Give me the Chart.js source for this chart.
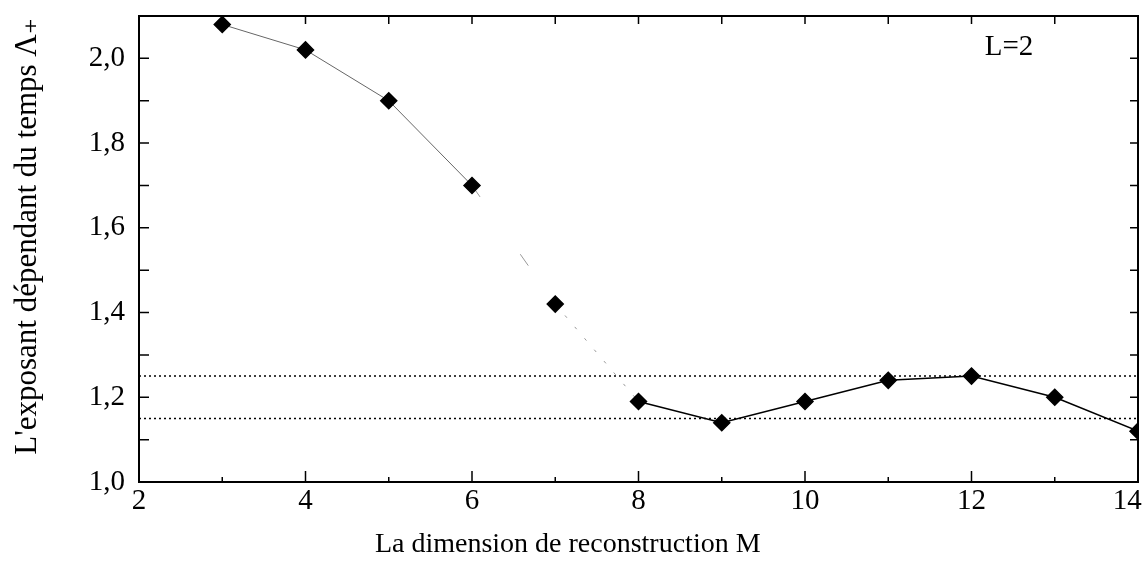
<!DOCTYPE html>
<html>
<head>
<meta charset="utf-8">
<script src="https://cdn.jsdelivr.net/npm/chart.js@4.4.1/dist/chart.umd.min.js"></script>
<style>
  html, body { margin: 0; padding: 0; background: #fff; }
  #wrap { width: 1143px; height: 575px; }
</style>
</head>
<body>
<div id="wrap"><canvas id="myChart" width="1143" height="575"></canvas></div>
<script>
// data
var dimM = [3, 4, 5, 6, 7, 8, 9, 10, 11, 12, 13, 14];
var exposant = [2.08, 2.02, 1.90, 1.70, 1.42, 1.19, 1.14, 1.19, 1.24, 1.25, 1.20, 1.12];
var bandHaut = 1.25;
var bandBas = 1.15;
var xTicks = [2, 4, 6, 8, 10, 12, 14];
var yTicks = [1.0, 1.2, 1.4, 1.6, 1.8, 2.0];
var xTitle = "La dimension de reconstruction M";
var yTitle = "L'exposant dépendant du temps Λ₊";

var serif = "'Liberation Serif', 'DejaVu Serif', serif";

var points = dimM.map(function (m, i) { return { x: m, y: exposant[i] }; });

// ticks pointing inward on all four sides, frame, axis titles and the L=2 label
var framePlugin = {
    id: "frame",
    afterDraw: function (chart) {
        var ctx = chart.ctx;
        var a = chart.chartArea;
        var xs = chart.scales.x;
        var ys = chart.scales.y;
        ctx.save();
        ctx.strokeStyle = "#000";
        ctx.lineWidth = 2;
        ctx.strokeRect(a.left, a.top, a.right - a.left, a.bottom - a.top);
        ctx.lineWidth = 1.5;
        ctx.beginPath();
        for (var v = 2; v <= 14; v++) {
            var px = xs.getPixelForValue(v);
            var len = v % 2 === 0 ? 11 : 5;
            ctx.moveTo(px, a.bottom); ctx.lineTo(px, a.bottom - len);
            ctx.moveTo(px, a.top); ctx.lineTo(px, a.top + 8);
        }
        for (var k = 0; k <= 10; k++) {
            var py = ys.getPixelForValue(1.0 + k * 0.1);
            ctx.moveTo(a.left, py); ctx.lineTo(a.left + 10, py);
            ctx.moveTo(a.right, py); ctx.lineTo(a.right - 8, py);
        }
        ctx.stroke();

        ctx.fillStyle = "#000";
        ctx.textAlign = "center";
        ctx.textBaseline = "middle";
        ctx.font = "29px " + serif;
        ctx.fillText("L=2", xs.getPixelForValue(12.45), ys.getPixelForValue(2.025));

        // axis titles (the originals sit a bit off centre)
        ctx.font = "28px " + serif;
        ctx.fillText(xTitle, xs.getPixelForValue(7.15), 545);
        ctx.save();
        ctx.translate(28, ys.getPixelForValue(1.58));
        ctx.rotate(-Math.PI / 2);
        ctx.font = "31px " + serif;
        ctx.fillText(yTitle, 0, 0);
        ctx.restore();
        ctx.restore();
    }
};

var ctx = document.getElementById("myChart").getContext("2d");
// eslint-disable-next-line no-undef,no-new
new Chart(ctx, {
    type: "line",
    data: {
        datasets: [
            {
                data: points,
                borderColor: "#000",
                borderWidth: 1.5,
                pointStyle: "rectRot",
                pointRadius: 8,
                pointBackgroundColor: "#000",
                pointBorderColor: "#000",
                segment: {
                    borderColor: function (c) {
                        if (c.p0.parsed.x < 6) return "#666";
                        if (c.p0.parsed.x < 8) return "#999";
                        return "#000";
                    },
                    borderWidth: function (c) { return c.p0.parsed.x < 8 ? 1 : 1.5; },
                    borderDash: function (c) {
                        if (c.p0.parsed.x === 6) return [14, 70];
                        if (c.p0.parsed.x === 7) return [3, 12];
                        return [];
                    }
                }
            },
            {
                data: [{ x: 2, y: bandHaut }, { x: 14, y: bandHaut }],
                borderColor: "#000",
                borderWidth: 1.5,
                borderDash: [2, 3],
                pointRadius: 0
            },
            {
                data: [{ x: 2, y: bandBas }, { x: 14, y: bandBas }],
                borderColor: "#000",
                borderWidth: 1.5,
                borderDash: [2, 3],
                pointRadius: 0
            }
        ]
    },
    options: {
        responsive: false,
        animation: false,
        layout: { autoPadding: false, padding: { top: 16, right: 5, left: 0, bottom: 0 } },
        plugins: {
            legend: { display: false },
            tooltip: { enabled: false }
        },
        scales: {
            x: {
                type: "linear",
                min: 2,
                max: 14,
                afterBuildTicks: function (s) { s.ticks = xTicks.map(function (v) { return { value: v }; }); },
                afterFit: function (s) { s.height = 93; s.paddingRight = 0; s.paddingLeft = 0; },
                grid: { display: false, drawTicks: false },
                border: { display: false },
                ticks: {
                    color: "#000",
                    padding: 2,
                    font: { family: serif, size: 29 },
                    callback: function (v) { return v === 14 ? "14\u00a0\u00a0\u00a0" : String(v); }
                }
            },
            y: {
                min: 1.0,
                max: 2.1,
                afterBuildTicks: function (s) { s.ticks = yTicks.map(function (v) { return { value: v }; }); },
                afterFit: function (s) { s.width = 139; s.paddingTop = 0; s.paddingBottom = 0; },
                grid: { display: false, drawTicks: false },
                border: { display: false },
                ticks: {
                    color: "#000",
                    padding: 14,
                    font: { family: serif, size: 29 },
                    callback: function (v) { return v.toFixed(1).replace(".", ","); }
                }
            }
        }
    },
    plugins: [framePlugin]
});
</script>
</body>
</html>
